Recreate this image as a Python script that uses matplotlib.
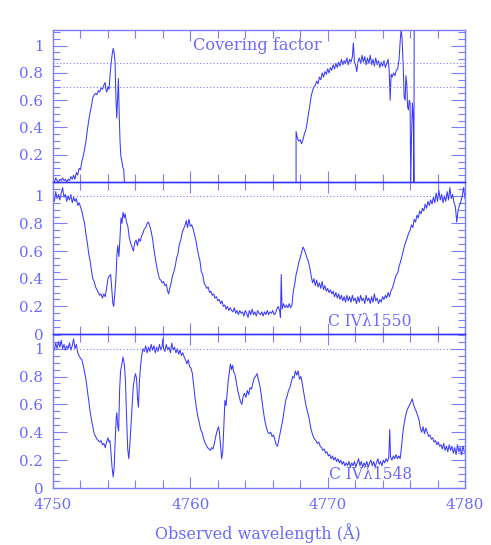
import matplotlib
matplotlib.use("Agg")
import matplotlib.pyplot as plt
from matplotlib.ticker import MultipleLocator, FixedLocator, FuncFormatter

# ---------------- data ----------------
# Covering factor (top panel), two segments
cf_wl_1 = [4750.00, 4750.10, 4750.20, 4750.30, 4750.40, 4750.50, 4750.60, 4750.70, 4750.80, 4750.90,
           4751.00, 4751.10, 4751.20, 4751.30, 4751.40, 4751.50, 4751.60, 4751.70, 4751.80, 4751.90,
           4752.00, 4752.10, 4752.20, 4752.30, 4752.40, 4752.50, 4752.60, 4752.70, 4752.80, 4752.90,
           4753.00, 4753.10, 4753.20, 4753.30, 4753.40, 4753.50, 4753.60, 4753.70, 4753.80, 4753.85,
           4753.92, 4754.00, 4754.08, 4754.15, 4754.22, 4754.30, 4754.38, 4754.45, 4754.52, 4754.58,
           4754.64, 4754.70, 4754.76, 4754.82, 4754.88, 4754.94, 4755.00, 4755.08, 4755.15, 4755.20]
cf_val_1 = [0.01, 0.00, 0.03, 0.01, 0.00, 0.02, 0.01, 0.03, 0.01, 0.02,
            0.00, 0.02, 0.01, 0.04, 0.02, 0.05, 0.02, 0.07, 0.05, 0.10,
            0.09, 0.15, 0.19, 0.24, 0.30, 0.38, 0.45, 0.51, 0.56, 0.62,
            0.64, 0.65, 0.64, 0.67, 0.66, 0.69, 0.68, 0.71, 0.73, 0.68,
            0.66, 0.70, 0.68, 0.78, 0.86, 0.93, 0.98, 0.95, 0.88, 0.62,
            0.47, 0.60, 0.76, 0.50, 0.30, 0.19, 0.16, 0.11, 0.09, 0.00]

cf_wl_2 = [4767.70, 4767.70, 4767.80, 4767.90, 4768.00, 4768.10, 4768.20, 4768.30, 4768.40, 4768.50,
           4768.60, 4768.70, 4768.80, 4768.90, 4769.00, 4769.10, 4769.20, 4769.30, 4769.40, 4769.50,
           4769.60, 4769.70, 4769.80, 4769.90, 4770.00, 4770.10, 4770.20, 4770.30, 4770.40, 4770.50,
           4770.60, 4770.70, 4770.80, 4770.90, 4771.00, 4771.10, 4771.20, 4771.30, 4771.40, 4771.50,
           4771.60, 4771.70, 4771.80, 4771.87, 4771.95, 4772.05, 4772.12, 4772.20, 4772.30, 4772.40,
           4772.50, 4772.60, 4772.70, 4772.80, 4772.90, 4773.00, 4773.10, 4773.20, 4773.30, 4773.40,
           4773.50, 4773.60, 4773.70, 4773.80, 4773.90, 4774.00, 4774.10, 4774.20, 4774.30, 4774.40,
           4774.48, 4774.55, 4774.62, 4774.70, 4774.80, 4774.90, 4775.00, 4775.10, 4775.20, 4775.27,
           4775.35, 4775.42, 4775.50, 4775.57, 4775.64, 4775.70, 4775.76, 4775.82, 4775.88, 4775.94,
           4776.00, 4776.05, 4776.10, 4776.17, 4776.24, 4776.28, 4776.30]
cf_val_2 = [0.00, 0.37, 0.32, 0.30, 0.31, 0.28, 0.31, 0.35, 0.38, 0.43,
            0.50, 0.56, 0.63, 0.67, 0.70, 0.71, 0.74, 0.72, 0.77, 0.75,
            0.80, 0.77, 0.81, 0.79, 0.83, 0.80, 0.84, 0.82, 0.86, 0.83,
            0.87, 0.84, 0.88, 0.85, 0.90, 0.86, 0.89, 0.87, 0.91, 0.86,
            0.90, 0.88, 0.92, 1.02, 0.88, 0.85, 0.81, 0.88, 0.91, 0.87,
            0.93, 0.88, 0.92, 0.86, 0.91, 0.87, 0.93, 0.86, 0.90, 0.85,
            0.91, 0.86, 0.89, 0.84, 0.88, 0.85, 0.89, 0.84, 0.87, 0.90,
            0.82, 0.60, 0.79, 0.77, 0.80, 0.78, 0.82, 0.83, 0.90, 1.02,
            1.12, 1.05, 0.85, 0.62, 0.60, 0.78, 0.72, 0.55, 0.53, 0.60,
            0.58, 0.00, 0.30, 0.58, 0.45, 0.00, 1.12]
cf_levels = [0.87, 0.70]

# C IV 1550 (middle panel)
c1550_wl = [4750.00, 4750.10, 4750.20, 4750.30, 4750.40, 4750.50, 4750.60, 4750.70, 4750.80, 4750.90,
            4751.00, 4751.10, 4751.20, 4751.30, 4751.40, 4751.50, 4751.60, 4751.70, 4751.80, 4751.90,
            4752.00, 4752.10, 4752.20, 4752.30, 4752.40, 4752.50, 4752.60, 4752.70, 4752.80, 4752.90,
            4753.00, 4753.10, 4753.20, 4753.30, 4753.40, 4753.50, 4753.60, 4753.70, 4753.80, 4753.90,
            4754.00, 4754.10, 4754.20, 4754.28, 4754.36, 4754.42, 4754.50, 4754.58, 4754.66, 4754.72,
            4754.80, 4754.88, 4754.95, 4755.02, 4755.10, 4755.18, 4755.25, 4755.35, 4755.45, 4755.55,
            4755.65, 4755.75, 4755.85, 4755.95, 4756.05, 4756.15, 4756.25, 4756.35, 4756.45, 4756.55,
            4756.65, 4756.75, 4756.85, 4756.95, 4757.05, 4757.15, 4757.25, 4757.35, 4757.45, 4757.55,
            4757.65, 4757.75, 4757.85, 4757.95, 4758.05, 4758.15, 4758.25, 4758.35, 4758.42, 4758.50,
            4758.60, 4758.70, 4758.80, 4758.90, 4759.00, 4759.10, 4759.20, 4759.30, 4759.40, 4759.50,
            4759.60, 4759.70, 4759.80, 4759.90, 4760.00, 4760.10, 4760.20, 4760.30, 4760.40, 4760.50,
            4760.60, 4760.70, 4760.80, 4760.90, 4761.00, 4761.10, 4761.20, 4761.30, 4761.40, 4761.50,
            4761.60, 4761.70, 4761.80, 4761.90, 4762.00, 4762.10, 4762.20, 4762.30, 4762.40, 4762.50,
            4762.60, 4762.70, 4762.80, 4762.90, 4763.00, 4763.10, 4763.20, 4763.30, 4763.40, 4763.50,
            4763.60, 4763.70, 4763.80, 4763.90, 4764.00, 4764.10, 4764.20, 4764.30, 4764.40, 4764.50,
            4764.60, 4764.70, 4764.80, 4764.90, 4765.00, 4765.10, 4765.20, 4765.30, 4765.40, 4765.50,
            4765.60, 4765.70, 4765.80, 4765.90, 4766.00, 4766.10, 4766.20, 4766.30, 4766.40, 4766.50,
            4766.56, 4766.62, 4766.68, 4766.78, 4766.90, 4767.00, 4767.10, 4767.20, 4767.30, 4767.40,
            4767.50, 4767.60, 4767.70, 4767.80, 4767.90, 4768.00, 4768.10, 4768.20, 4768.30, 4768.40,
            4768.50, 4768.60, 4768.70, 4768.80, 4768.90, 4769.00, 4769.10, 4769.20, 4769.30, 4769.40,
            4769.50, 4769.60, 4769.70, 4769.80, 4769.90, 4770.00, 4770.10, 4770.20, 4770.30, 4770.40,
            4770.50, 4770.60, 4770.70, 4770.80, 4770.90, 4771.00, 4771.10, 4771.20, 4771.30, 4771.40,
            4771.50, 4771.60, 4771.70, 4771.80, 4771.90, 4772.00, 4772.10, 4772.20, 4772.30, 4772.40,
            4772.50, 4772.60, 4772.70, 4772.80, 4772.90, 4773.00, 4773.10, 4773.20, 4773.30, 4773.40,
            4773.50, 4773.60, 4773.70, 4773.80, 4773.90, 4774.00, 4774.10, 4774.20, 4774.30, 4774.40,
            4774.50, 4774.60, 4774.70, 4774.80, 4774.90, 4775.00, 4775.10, 4775.20, 4775.30, 4775.40,
            4775.50, 4775.60, 4775.70, 4775.80, 4775.90, 4776.00, 4776.10, 4776.20, 4776.30, 4776.40,
            4776.50, 4776.60, 4776.70, 4776.80, 4776.90, 4777.00, 4777.10, 4777.20, 4777.30, 4777.40,
            4777.50, 4777.60, 4777.70, 4777.80, 4777.90, 4778.00, 4778.10, 4778.20, 4778.30, 4778.40,
            4778.50, 4778.60, 4778.70, 4778.80, 4778.90, 4779.00, 4779.10, 4779.20, 4779.30, 4779.40,
            4779.50, 4779.60, 4779.70, 4779.80, 4779.90, 4780.00]
c1550_val = [1.00, 0.96, 1.03, 0.98, 1.01, 0.97, 1.02, 1.06, 0.99, 1.01,
             0.96, 1.00, 0.97, 1.01, 0.95, 0.99, 0.96, 0.98, 0.93, 0.95,
             0.92, 0.89, 0.84, 0.80, 0.72, 0.66, 0.58, 0.53, 0.46, 0.40,
             0.38, 0.34, 0.32, 0.30, 0.28, 0.29, 0.26, 0.29, 0.27, 0.33,
             0.40, 0.42, 0.43, 0.33, 0.22, 0.20, 0.29, 0.40, 0.58, 0.64,
             0.56, 0.70, 0.84, 0.80, 0.88, 0.84, 0.87, 0.81, 0.78, 0.70,
             0.66, 0.63, 0.60, 0.66, 0.68, 0.64, 0.69, 0.67, 0.71, 0.73,
             0.76, 0.77, 0.80, 0.81, 0.78, 0.74, 0.69, 0.61, 0.55, 0.49,
             0.44, 0.40, 0.39, 0.37, 0.38, 0.35, 0.36, 0.31, 0.29, 0.33,
             0.37, 0.42, 0.45, 0.49, 0.55, 0.58, 0.65, 0.68, 0.73, 0.76,
             0.78, 0.82, 0.77, 0.83, 0.78, 0.79, 0.76, 0.72, 0.68, 0.62,
             0.57, 0.53, 0.45, 0.43, 0.37, 0.35, 0.33, 0.34, 0.30, 0.31,
             0.28, 0.29, 0.26, 0.27, 0.24, 0.25, 0.22, 0.24, 0.20, 0.21,
             0.18, 0.20, 0.17, 0.19, 0.17, 0.16, 0.19, 0.15, 0.17, 0.14,
             0.17, 0.15, 0.16, 0.13, 0.17, 0.15, 0.12, 0.17, 0.14, 0.18,
             0.14, 0.16, 0.13, 0.17, 0.15, 0.14, 0.16, 0.13, 0.16, 0.14,
             0.17, 0.14, 0.16, 0.15, 0.17, 0.14, 0.15, 0.18, 0.20, 0.17,
             0.12, 0.43, 0.18, 0.22, 0.19, 0.21, 0.19, 0.22, 0.19, 0.21,
             0.31, 0.36, 0.43, 0.47, 0.52, 0.55, 0.59, 0.63, 0.61, 0.58,
             0.55, 0.52, 0.48, 0.42, 0.37, 0.40, 0.35, 0.39, 0.34, 0.37,
             0.33, 0.38, 0.32, 0.35, 0.31, 0.33, 0.30, 0.32, 0.29, 0.31,
             0.27, 0.30, 0.26, 0.29, 0.25, 0.28, 0.24, 0.27, 0.23, 0.28,
             0.24, 0.27, 0.23, 0.28, 0.24, 0.26, 0.22, 0.27, 0.23, 0.28,
             0.24, 0.26, 0.22, 0.28, 0.24, 0.26, 0.22, 0.27, 0.23, 0.29,
             0.24, 0.26, 0.22, 0.25, 0.23, 0.27, 0.25, 0.28, 0.26, 0.30,
             0.27, 0.31, 0.33, 0.36, 0.40, 0.43, 0.44, 0.49, 0.52, 0.56,
             0.60, 0.64, 0.67, 0.70, 0.73, 0.75, 0.79, 0.77, 0.83, 0.81,
             0.86, 0.84, 0.89, 0.87, 0.91, 0.89, 0.94, 0.91, 0.96, 0.93,
             0.97, 0.94, 0.99, 0.95, 1.02, 0.96, 1.04, 0.97, 1.01, 0.95,
             1.00, 0.96, 1.03, 0.97, 1.06, 0.98, 1.01, 0.95, 0.92, 0.81,
             0.90, 0.93, 0.96, 1.00, 1.06, 0.98]

# C IV 1548 (bottom panel)
c1548_wl = [4750.00, 4750.10, 4750.20, 4750.30, 4750.40, 4750.50, 4750.60, 4750.70, 4750.80, 4750.90,
            4751.00, 4751.10, 4751.20, 4751.30, 4751.40, 4751.50, 4751.60, 4751.70, 4751.80, 4751.90,
            4752.00, 4752.10, 4752.20, 4752.30, 4752.40, 4752.50, 4752.60, 4752.70, 4752.80, 4752.90,
            4753.00, 4753.10, 4753.20, 4753.30, 4753.40, 4753.50, 4753.60, 4753.70, 4753.80, 4753.90,
            4754.00, 4754.08, 4754.15, 4754.22, 4754.30, 4754.38, 4754.45, 4754.52, 4754.60, 4754.65,
            4754.72, 4754.78, 4754.85, 4754.92, 4755.00, 4755.10, 4755.20, 4755.28, 4755.36, 4755.44,
            4755.52, 4755.60, 4755.68, 4755.76, 4755.84, 4755.92, 4756.00, 4756.08, 4756.16, 4756.22,
            4756.30, 4756.38, 4756.46, 4756.55, 4756.65, 4756.75, 4756.85, 4756.95, 4757.05, 4757.15,
            4757.25, 4757.35, 4757.45, 4757.55, 4757.65, 4757.75, 4757.85, 4757.95, 4758.00, 4758.05,
            4758.15, 4758.25, 4758.35, 4758.45, 4758.55, 4758.65, 4758.75, 4758.85, 4758.95, 4759.05,
            4759.15, 4759.25, 4759.35, 4759.45, 4759.55, 4759.65, 4759.75, 4759.85, 4759.95, 4760.05,
            4760.15, 4760.25, 4760.35, 4760.45, 4760.55, 4760.65, 4760.75, 4760.85, 4760.95, 4761.05,
            4761.15, 4761.25, 4761.35, 4761.45, 4761.55, 4761.65, 4761.75, 4761.85, 4761.95, 4762.05,
            4762.12, 4762.20, 4762.28, 4762.36, 4762.44, 4762.52, 4762.60, 4762.68, 4762.76, 4762.85,
            4762.92, 4763.00, 4763.08, 4763.16, 4763.24, 4763.35, 4763.45, 4763.55, 4763.65, 4763.75,
            4763.85, 4763.95, 4764.05, 4764.15, 4764.25, 4764.35, 4764.45, 4764.55, 4764.65, 4764.75,
            4764.85, 4764.95, 4765.05, 4765.15, 4765.25, 4765.35, 4765.45, 4765.55, 4765.65, 4765.75,
            4765.85, 4765.95, 4766.05, 4766.15, 4766.25, 4766.35, 4766.45, 4766.55, 4766.65, 4766.75,
            4766.85, 4766.95, 4767.05, 4767.15, 4767.25, 4767.35, 4767.45, 4767.55, 4767.65, 4767.75,
            4767.85, 4767.95, 4768.05, 4768.15, 4768.25, 4768.35, 4768.45, 4768.55, 4768.65, 4768.75,
            4768.85, 4768.95, 4769.05, 4769.15, 4769.25, 4769.35, 4769.45, 4769.55, 4769.65, 4769.75,
            4769.85, 4769.95, 4770.05, 4770.15, 4770.25, 4770.35, 4770.45, 4770.55, 4770.65, 4770.75,
            4770.85, 4770.95, 4771.05, 4771.15, 4771.25, 4771.35, 4771.45, 4771.55, 4771.65, 4771.75,
            4771.85, 4771.95, 4772.05, 4772.15, 4772.25, 4772.35, 4772.45, 4772.55, 4772.65, 4772.75,
            4772.85, 4772.95, 4773.05, 4773.15, 4773.25, 4773.35, 4773.45, 4773.55, 4773.65, 4773.75,
            4773.85, 4773.95, 4774.05, 4774.15, 4774.25, 4774.35, 4774.45, 4774.52, 4774.58, 4774.68,
            4774.78, 4774.88, 4774.98, 4775.08, 4775.18, 4775.28, 4775.38, 4775.48, 4775.58, 4775.68,
            4775.78, 4775.88, 4775.98, 4776.08, 4776.16, 4776.25, 4776.35, 4776.45, 4776.55, 4776.65,
            4776.75, 4776.85, 4776.95, 4777.05, 4777.15, 4777.25, 4777.35, 4777.45, 4777.55, 4777.65,
            4777.75, 4777.85, 4777.95, 4778.05, 4778.15, 4778.25, 4778.35, 4778.45, 4778.55, 4778.65,
            4778.75, 4778.85, 4778.95, 4779.05, 4779.15, 4779.25, 4779.35, 4779.45, 4779.55, 4779.65,
            4779.75, 4779.85, 4779.95]
c1548_val = [1.01, 0.99, 1.04, 1.00, 1.05, 1.01, 1.06, 1.00, 1.03, 0.99,
             1.02, 1.00, 1.04, 0.99, 1.02, 1.07, 1.00, 1.03, 0.97, 0.95,
             0.93, 0.92, 0.88, 0.83, 0.78, 0.70, 0.63, 0.55, 0.49, 0.44,
             0.39, 0.37, 0.35, 0.34, 0.33, 0.34, 0.31, 0.32, 0.29, 0.33,
             0.36, 0.33, 0.34, 0.25, 0.15, 0.08, 0.14, 0.32, 0.50, 0.54,
             0.44, 0.41, 0.70, 0.84, 0.88, 0.94, 0.88, 0.76, 0.50, 0.28,
             0.21, 0.32, 0.45, 0.58, 0.72, 0.78, 0.82, 0.79, 0.64, 0.58,
             0.78, 0.88, 0.95, 1.00, 0.98, 1.02, 0.97, 1.01, 0.98, 1.03,
             0.99, 1.02, 0.97, 1.01, 0.98, 1.03, 0.99, 1.02, 1.07, 1.00,
             0.98, 1.03, 0.99, 1.01, 0.97, 1.04, 0.99, 1.01, 0.97, 1.00,
             0.96, 0.99, 0.95, 0.97, 0.94, 0.92, 0.89, 0.92, 0.87, 0.86,
             0.82, 0.73, 0.64, 0.57, 0.51, 0.47, 0.42, 0.40, 0.36, 0.33,
             0.31, 0.29, 0.28, 0.27, 0.29, 0.28, 0.32, 0.37, 0.41, 0.44,
             0.40, 0.30, 0.21, 0.26, 0.45, 0.63, 0.59, 0.68, 0.77, 0.84,
             0.89, 0.85, 0.88, 0.83, 0.82, 0.76, 0.70, 0.66, 0.62, 0.60,
             0.66, 0.68, 0.65, 0.70, 0.67, 0.72, 0.71, 0.75, 0.79, 0.80,
             0.82, 0.78, 0.74, 0.68, 0.60, 0.53, 0.47, 0.43, 0.40, 0.39,
             0.40, 0.37, 0.38, 0.35, 0.31, 0.30, 0.35, 0.40, 0.45, 0.50,
             0.57, 0.63, 0.66, 0.70, 0.72, 0.76, 0.80, 0.79, 0.84, 0.81,
             0.84, 0.78, 0.80, 0.75, 0.69, 0.63, 0.58, 0.54, 0.50, 0.44,
             0.40, 0.37, 0.35, 0.34, 0.32, 0.33, 0.30, 0.29, 0.27, 0.28,
             0.25, 0.26, 0.23, 0.24, 0.21, 0.23, 0.20, 0.22, 0.19, 0.21,
             0.18, 0.20, 0.17, 0.19, 0.16, 0.18, 0.16, 0.19, 0.15, 0.18,
             0.16, 0.19, 0.15, 0.18, 0.21, 0.16, 0.19, 0.15, 0.18, 0.16,
             0.19, 0.15, 0.18, 0.20, 0.16, 0.19, 0.15, 0.18, 0.21, 0.17,
             0.19, 0.16, 0.20, 0.18, 0.21, 0.19, 0.22, 0.42, 0.22, 0.20,
             0.23, 0.21, 0.24, 0.21, 0.23, 0.21, 0.30, 0.40, 0.47, 0.52,
             0.56, 0.58, 0.60, 0.62, 0.64, 0.60, 0.57, 0.55, 0.52, 0.49,
             0.43, 0.40, 0.44, 0.39, 0.43, 0.40, 0.37, 0.38, 0.35, 0.36,
             0.33, 0.34, 0.31, 0.33, 0.30, 0.31, 0.28, 0.32, 0.27, 0.30,
             0.26, 0.31, 0.27, 0.30, 0.25, 0.29, 0.24, 0.31, 0.26, 0.29,
             0.24, 0.30, 0.26]

x_ticklabels = [4750, 4760, 4770, 4780]
panel_labels = ["Covering factor", "C IV\u03bb1550", "C IV\u03bb1548"]
xlabel_text = "Observed wavelength (\u00c5)"

# ---------------- style ----------------
LINE = "#3a3aff"
FRAME = "#7c7cff"
DARK = "#3535ff"
TEXT = "#6a6aff"
plt.rcParams["font.family"] = ["DejaVu Serif"]

W, H = 491, 545
fig = plt.figure(figsize=(W / 100, H / 100), dpi=100)
left = 53 / W
width = 412 / W

def make_ax(ytop, ybot):
    return fig.add_axes([left, 1 - ybot / H, width, (ybot - ytop) / H])

ax1 = make_ax(30, 182)
ax2 = make_ax(182, 334)
ax3 = make_ax(334, 488)

def fmt(v, pos):
    if abs(v - 1) < 1e-6:
        return "1"
    if abs(v) < 1e-6:
        return "0"
    return f"{v:.1f}"

for ax, ymax, yt in [(ax1, 1.115, [0.2, 0.4, 0.6, 0.8, 1.0]),
                     (ax2, 1.10, [0, 0.2, 0.4, 0.6, 0.8, 1.0]),
                     (ax3, 1.105, [0, 0.2, 0.4, 0.6, 0.8, 1.0])]:
    ax.set_xlim(4750, 4780)
    ax.set_ylim(0, ymax)
    ax.xaxis.set_major_locator(FixedLocator(x_ticklabels))
    ax.xaxis.set_minor_locator(MultipleLocator(2))
    ax.yaxis.set_major_locator(FixedLocator(yt))
    ax.yaxis.set_minor_locator(MultipleLocator(0.05))
    ax.yaxis.set_major_formatter(FuncFormatter(fmt))
    ax.tick_params(which="both", direction="in", top=True, right=True,
                   color=FRAME, labelcolor=TEXT, labelsize=10.8)
    ax.tick_params(axis="x", which="major", length=8, width=0.8, pad=7)
    ax.tick_params(axis="x", which="minor", length=6, width=0.8)
    ax.tick_params(axis="y", which="major", length=10, width=0.8, pad=7)
    ax.tick_params(axis="y", which="minor", length=5, width=0.8)
    for s in ax.spines.values():
        s.set_color(FRAME)
        s.set_linewidth(1.0)
    ax.set_facecolor("none")

ax1.tick_params(axis="x", labelbottom=False)
ax2.tick_params(axis="x", labelbottom=False)
ax1.spines["bottom"].set_color(DARK)
ax2.spines["top"].set_color(DARK)
ax2.spines["bottom"].set_color(DARK)
ax3.spines["top"].set_color(DARK)

# data
ax1.plot(cf_wl_1, cf_val_1, color=LINE, lw=0.75)
ax1.plot(cf_wl_2, cf_val_2, color=LINE, lw=0.75)
for lev in cf_levels:
    ax1.axhline(lev, color=FRAME, lw=0.8, ls=(0, (1, 2)))
ax2.plot(c1550_wl, c1550_val, color=LINE, lw=0.75)
ax2.axhline(1.0, color=FRAME, lw=0.8, ls=(0, (1, 2)))
ax3.plot(c1548_wl, c1548_val, color=LINE, lw=0.75)
ax3.axhline(1.0, color=FRAME, lw=0.8, ls=(0, (1, 2)))

ax1.text(4764.85, 1.0, panel_labels[0], color=TEXT, fontsize=11.7, ha="center", va="center")
ax2.text(4773.1, 0.09, panel_labels[1], color=TEXT, fontsize=11.2, ha="center", va="center")
ax3.text(4773.1, 0.10, panel_labels[2], color=TEXT, fontsize=11.2, ha="center", va="center")

fig.text(258 / W, 1 - 533 / H, xlabel_text, color=TEXT, fontsize=11.5,
         ha="center", va="center")

fig.savefig("out.png", dpi=100)
